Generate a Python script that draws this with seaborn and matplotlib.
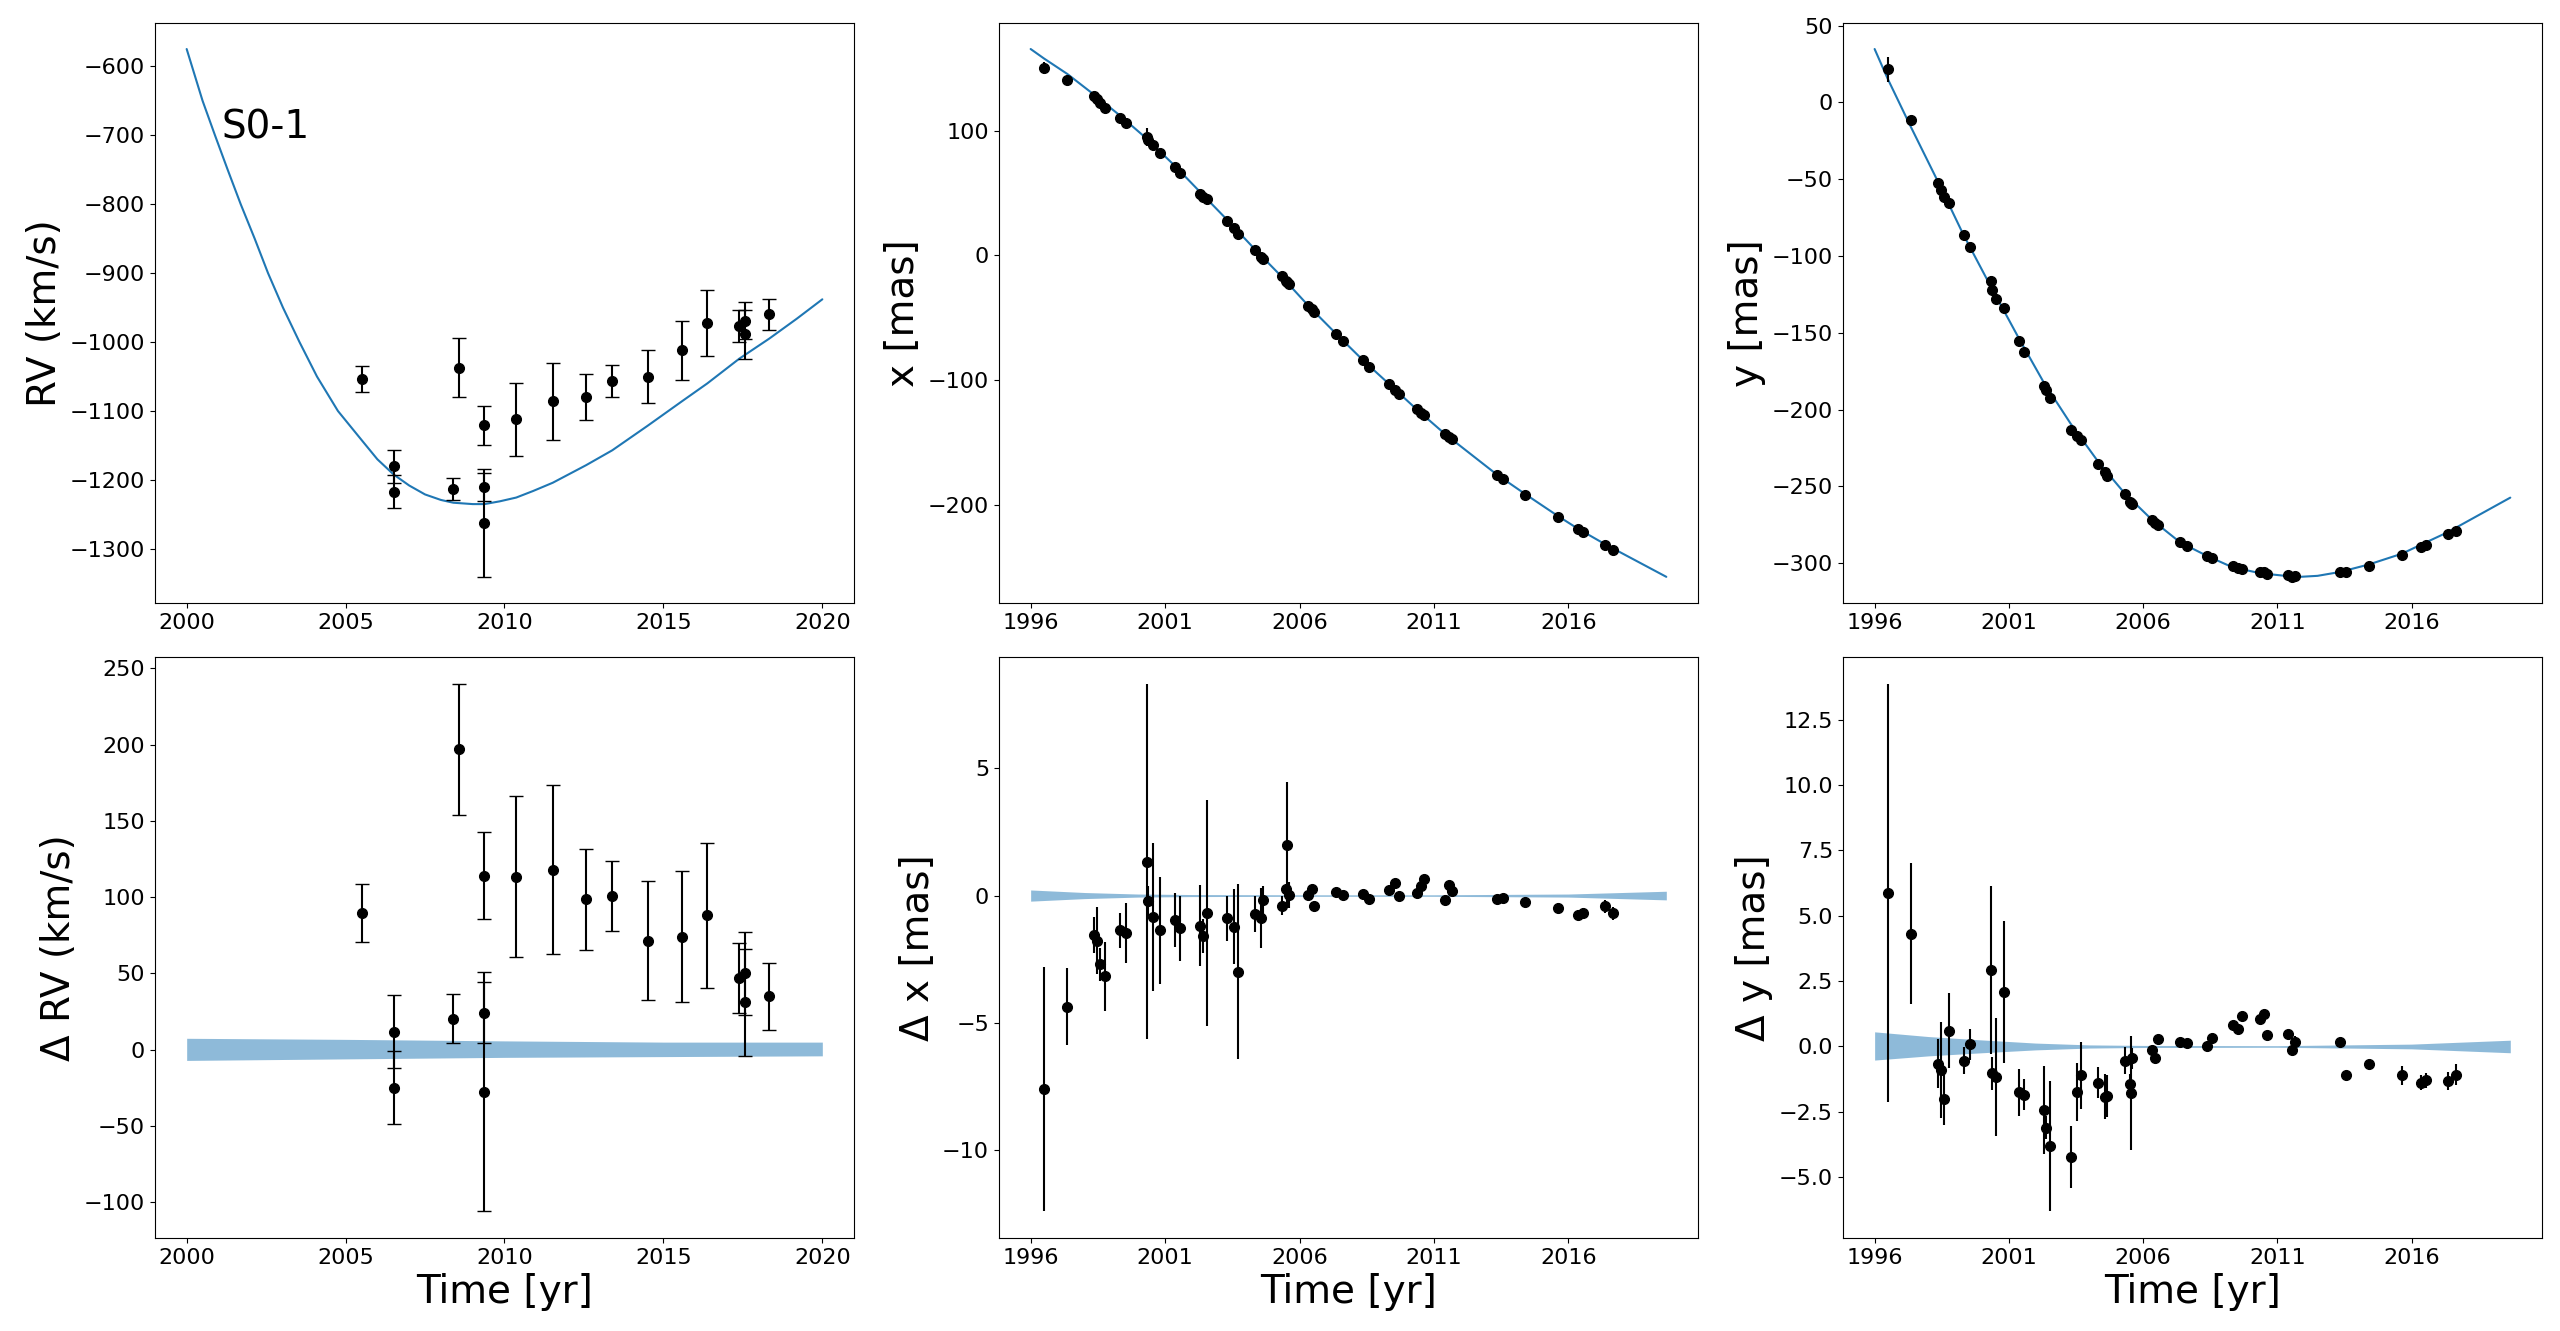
import numpy as np
import matplotlib
matplotlib.use("Agg")
import matplotlib.pyplot as plt
import seaborn as sns

# ---- radial velocity (S0-1) ----
t_rv = [2005.52, 2006.51, 2006.51, 2008.39, 2008.58, 2009.37, 2009.37, 2009.37, 2010.37,
        2011.52, 2012.57, 2013.39, 2014.50, 2015.58, 2016.38, 2017.39, 2017.58, 2017.58, 2018.33]
rv = [-1054, -1180, -1217, -1213, -1037, -1121, -1210, -1262, -1112,
      -1086, -1080, -1056, -1050, -1012, -972, -977, -969, -989, -960]
rv_err = [19, 24, 24, 16, 43, 28.5, 20, 78.5, 53, 55.5, 33, 23, 39, 43, 47.5, 23, 27, 35, 22]
d_rv = [89.5, 11.9, -25, 20.3, 197, 114, 24.3, -27.5, 113.5,
        118, 98.5, 101, 71.5, 74, 88, 47, 50, 31, 35]

t_rv_model = [2000.0, 2000.5, 2000.89, 2001.29, 2001.70, 2002.14, 2002.56, 2003.03, 2003.55,
              2004.10, 2004.76, 2005.52, 2006.0, 2006.51, 2007.0, 2007.5, 2008.0, 2008.39,
              2009.0, 2009.37, 2009.85, 2010.37, 2010.9, 2011.52, 2012.57, 2013.39, 2014.5,
              2015.58, 2016.38, 2017.39, 2018.33, 2019.2, 2020.0]
rv_model = [-575, -650, -700, -750, -800, -850, -900, -950, -1000,
            -1050, -1100, -1143, -1170, -1192, -1208, -1221, -1229, -1233,
            -1235, -1235, -1231, -1225.5, -1216, -1204, -1178.5, -1157, -1121.5,
            -1086, -1060, -1024, -995, -966, -938]

t_rv_band = [2000, 2005, 2010, 2015, 2020]
rv_band_lo = [-7, -6, -5, -4.5, -4]
rv_band_hi = [7.5, 6.8, 5.8, 5, 5]
rv_ticks = [2000, 2005, 2010, 2015, 2020]

# ---- astrometry epochs ----
t_ast = [1996.49, 1997.37, 1998.35, 1998.48, 1998.58, 1998.76, 1999.33, 1999.56, 2000.32, 2000.38,
         2000.54, 2000.81, 2001.37, 2001.56, 2002.31, 2002.40, 2002.54, 2003.31, 2003.55, 2003.70,
         2004.33, 2004.57, 2004.65, 2005.33, 2005.50, 2005.55, 2005.60, 2006.33, 2006.45, 2006.55,
         2007.37, 2007.63, 2008.37, 2008.57, 2009.34, 2009.55, 2009.70, 2010.36, 2010.50, 2010.63,
         2011.41, 2011.55, 2011.66, 2013.33, 2013.56, 2014.40, 2015.63, 2016.34, 2016.54, 2017.36,
         2017.66]

x_obs = [150.4, 141.0, 127.5, 125.2, 122.3, 118.4, 110.5, 106.0, 94.8, 92.2,
         88.6, 82.1, 70.6, 65.7, 49.4, 46.8, 44.8, 27.5, 21.9, 17.0,
         4.3, -1.3, -2.9, -17.0, -20.9, -21.6, -22.9, -40.5, -43.2, -45.5,
         -63.1, -68.7, -84.4, -89.3, -103.3, -107.9, -111.5, -123.6, -126.2, -128.2,
         -143.6, -146.2, -147.8, -175.9, -179.2, -192.0, -210.0, -220.0, -222.4, -232.2,
         -236.4]
dx = [-7.63, -4.37, -1.55, -1.77, -2.71, -3.18, -1.37, -1.48, 1.34, -0.21,
      -0.85, -1.37, -0.97, -1.29, -1.18, -1.60, -0.70, -0.90, -1.22, -2.99,
      -0.73, -0.89, -0.16, -0.40, 0.24, 1.98, 0.03, 0.03, 0.24, -0.43,
      0.14, 0.03, 0.05, -0.12, 0.21, 0.49, -0.03, 0.12, 0.38, 0.64,
      -0.16, 0.43, 0.16, -0.14, -0.10, -0.26, -0.49, -0.78, -0.70, -0.43,
      -0.70]
dx_err = [4.8, 1.5, 0.72, 1.33, 0.65, 1.36, 0.70, 1.17, 7.0, 0.6,
          2.9, 2.1, 1.07, 1.28, 1.58, 0.67, 4.45, 0.9, 1.46, 3.44,
          0.70, 1.17, 0.55, 0.38, 0.22, 2.48, 0.5, 0.12, 0.15, 0.12,
          0.1, 0.1, 0.1, 0.1, 0.1, 0.1, 0.1, 0.1, 0.1, 0.1,
          0.1, 0.1, 0.1, 0.1, 0.1, 0.1, 0.18, 0.2, 0.2, 0.25,
          0.25]

y_obs = [21.5, -11.7, -52.7, -57.2, -61.5, -65.4, -86.4, -94.1, -116.1, -122.4,
         -128.2, -133.8, -155.3, -162.2, -184.4, -187.3, -192.4, -213.3, -217.0, -219.9,
         -235.6, -240.9, -243.0, -254.9, -259.9, -260.7, -261.2, -272.1, -273.7, -275.3,
         -286.2, -288.6, -295.2, -296.8, -301.8, -303.4, -303.7, -305.5, -306.0, -306.8,
         -307.9, -308.7, -308.4, -305.5, -306.0, -301.5, -294.9, -289.6, -288.3, -281.1,
         -278.8]
dy = [5.88, 4.31, -0.66, -0.91, -1.99, 0.61, -0.54, 0.08, 2.93, -1.03,
      -1.16, 2.09, -1.75, -1.84, -2.43, -3.10, -3.81, -4.23, -1.73, -1.11,
      -1.38, -1.92, -1.89, -0.54, -1.45, -1.77, -0.45, -0.15, -0.44, 0.30,
      0.17, 0.12, 0.02, 0.34, 0.84, 0.67, 1.16, 1.06, 1.26, 0.44,
      0.49, -0.12, 0.19, 0.19, -1.08, -0.66, -1.11, -1.38, -1.30, -1.33,
      -1.08]
dy_err = [8.0, 2.69, 0.93, 1.84, 1.0, 1.42, 0.53, 0.58, 3.2, 0.62,
          2.25, 2.72, 0.9, 0.59, 1.7, 0.45, 2.5, 1.19, 1.11, 1.3,
          0.58, 0.87, 0.8, 0.53, 0.4, 2.18, 0.4, 0.15, 0.15, 0.15,
          0.1, 0.1, 0.1, 0.1, 0.1, 0.15, 0.15, 0.1, 0.15, 0.15,
          0.1, 0.15, 0.2, 0.15, 0.1, 0.1, 0.35, 0.3, 0.3, 0.35,
          0.4]

# ---- orbit model curves ----
t_x_model = [1996.0, 1996.49, 1997.37, 1998.35, 1999.33, 2000.32, 2001.37, 2002.31, 2003.31,
             2004.33, 2005.33, 2006.33, 2007.37, 2008.37, 2009.34, 2010.36, 2011.41, 2013.33,
             2014.40, 2015.63, 2016.34, 2017.36, 2019.64]
x_model = [165.5, 158.0, 145.4, 129.0, 112.0, 93.5, 71.6, 50.6, 28.4,
           5.0, -17.0, -40.5, -63.2, -84.4, -103.5, -123.7, -143.4, -175.8,
           -191.7, -209.5, -219.2, -231.8, -258.0]

t_y_model = [1996.0, 1996.48, 1997.35, 1998.37, 1999.30, 2000.30, 2001.37, 2002.29, 2003.30,
             2004.34, 2005.31, 2006.35, 2007.38, 2008.38, 2009.33, 2010.37, 2011.40, 2011.9,
             2012.5, 2013.33, 2014.41, 2015.64, 2016.32, 2017.35, 2019.68]
y_model = [34.7, 15.6, -16.0, -52.0, -85.9, -119.0, -153.5, -182.0, -209.1,
           -234.2, -254.4, -272.0, -286.4, -295.2, -302.6, -306.5, -308.4, -308.8,
           -308.2, -305.7, -300.8, -293.8, -288.2, -279.8, -257.3]

t_x_band = [1996.0, 1998.0, 2000.0, 2002.0, 2006.0, 2011.0, 2016.0, 2019.64]
x_band_hi = [0.22, 0.12, 0.06, 0.04, 0.03, 0.03, 0.06, 0.17]
x_band_lo = [-0.22, -0.12, -0.06, -0.04, -0.03, -0.03, -0.06, -0.17]

t_y_band = [1996.0, 1998.0, 2000.0, 2002.0, 2004.0, 2006.0, 2011.0, 2016.0, 2019.68]
y_band_hi = [0.56, 0.38, 0.25, 0.13, 0.06, 0.04, 0.03, 0.09, 0.24]
y_band_lo = [-0.52, -0.36, -0.24, -0.13, -0.06, -0.04, -0.03, -0.09, -0.24]

ast_ticks = [1996, 2001, 2006, 2011, 2016]

sns.set_style("ticks", {"axes.edgecolor": "black", "xtick.color": "black",
                        "ytick.color": "black", "text.color": "black",
                        "axes.labelcolor": "black"})
plt.rcParams["font.family"] = ["DejaVu Sans"]
plt.rcParams["axes.unicode_minus"] = True

LAB = 28
TICK = 16

fig, axes = plt.subplots(2, 3, figsize=(25.6, 13.31), dpi=100)
fig.subplots_adjust(left=0.0605, right=0.993, top=0.983, bottom=0.070,
                    wspace=0.207, hspace=0.093)

# RV
ax = axes[0, 0]
sns.lineplot(x=t_rv_model, y=rv_model, ax=ax, color="C0", lw=1.5)
ax.errorbar(t_rv, rv, yerr=rv_err, fmt="o", color="k", ms=7, capsize=5)
ax.text(0.095, 0.80, "S0-1", transform=ax.transAxes, fontsize=LAB, va="baseline")
ax.set_ylabel("RV (km/s)", fontsize=LAB)

ax = axes[1, 0]
ax.fill_between(t_rv_band, rv_band_lo, rv_band_hi, color="C0", alpha=0.5, lw=0)
ax.errorbar(t_rv, d_rv, yerr=rv_err, fmt="o", color="k", ms=7, capsize=5)
ax.set_ylabel("Δ RV (km/s)", fontsize=LAB)

# x
ax = axes[0, 1]
sns.lineplot(x=t_x_model, y=x_model, ax=ax, color="C0", lw=1.5)
ax.errorbar(t_ast, x_obs, yerr=dx_err, fmt="o", color="k", ms=7)
ax.set_ylabel("x [mas]", fontsize=LAB)

ax = axes[1, 1]
ax.fill_between(t_x_band, x_band_lo, x_band_hi, color="C0", alpha=0.5, lw=0)
ax.errorbar(t_ast, dx, yerr=dx_err, fmt="o", color="k", ms=7)
ax.set_ylabel("Δ x [mas]", fontsize=LAB)

# y
ax = axes[0, 2]
sns.lineplot(x=t_y_model, y=y_model, ax=ax, color="C0", lw=1.5)
ax.errorbar(t_ast, y_obs, yerr=dy_err, fmt="o", color="k", ms=7)
ax.set_ylabel("y [mas]", fontsize=LAB)

ax = axes[1, 2]
ax.fill_between(t_y_band, y_band_lo, y_band_hi, color="C0", alpha=0.5, lw=0)
ax.errorbar(t_ast, dy, yerr=dy_err, fmt="o", color="k", ms=7)
ax.set_ylabel("Δ y [mas]", fontsize=LAB)

for row in (0, 1):
    axes[row, 0].set_xticks(rv_ticks)
    for col in (1, 2):
        axes[row, col].set_xticks(ast_ticks)

for ax in axes.flat:
    ax.tick_params(labelsize=TICK)
    for s in ax.spines.values():
        s.set_visible(True)
for ax in axes[1]:
    ax.set_xlabel("Time [yr]", fontsize=LAB)

fig.savefig("out.png", dpi=100)
